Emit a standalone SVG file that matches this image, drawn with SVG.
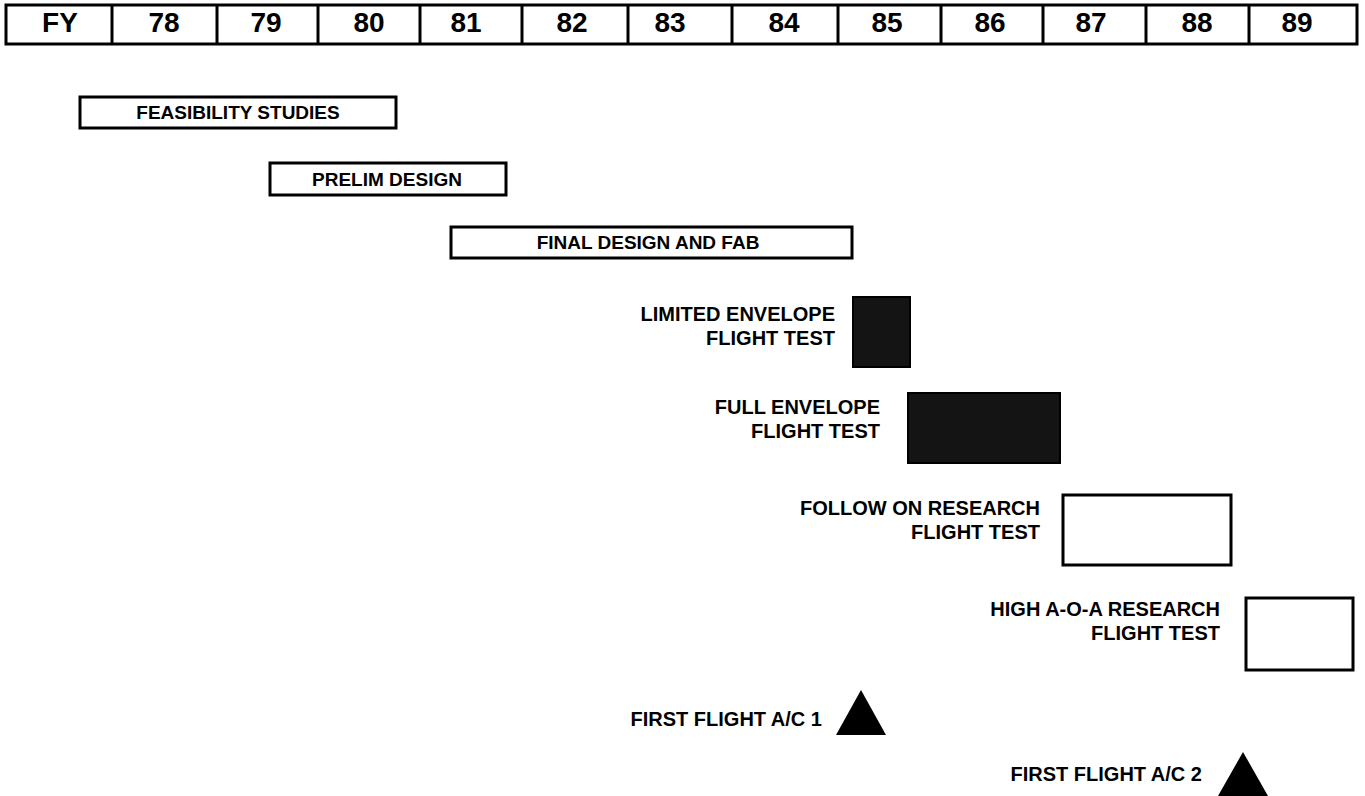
<svg xmlns="http://www.w3.org/2000/svg" width="1365" height="796" viewBox="0 0 1365 796">
<style>
.hdr{fill:#fff;stroke:#000;stroke-width:3}
.hdrline{stroke:#000;stroke-width:3}
.ht{font-family:"Liberation Sans",Arial,sans-serif;font-weight:bold;font-size:28px;text-anchor:middle;fill:#000}
.bar{fill:#fff;stroke:#000;stroke-width:3}
.dark{fill:#141414;stroke:#000;stroke-width:2}
.bt{font-family:"Liberation Sans",Arial,sans-serif;font-weight:bold;font-size:19px;text-anchor:middle;fill:#000}
.lt{font-family:"Liberation Sans",Arial,sans-serif;font-weight:bold;font-size:20px;text-anchor:end;fill:#000}
.tri{fill:#000}
</style>
<rect width="1365" height="796" fill="#fff"/>
<g id="header">
<rect class="hdr" x="6" y="5" width="1351" height="39"/>
<line class="hdrline" x1="112" y1="5" x2="112" y2="44"/>
<line class="hdrline" x1="217" y1="5" x2="217" y2="44"/>
<line class="hdrline" x1="318" y1="5" x2="318" y2="44"/>
<line class="hdrline" x1="420" y1="5" x2="420" y2="44"/>
<line class="hdrline" x1="522" y1="5" x2="522" y2="44"/>
<line class="hdrline" x1="628" y1="5" x2="628" y2="44"/>
<line class="hdrline" x1="732" y1="5" x2="732" y2="44"/>
<line class="hdrline" x1="838" y1="5" x2="838" y2="44"/>
<line class="hdrline" x1="941" y1="5" x2="941" y2="44"/>
<line class="hdrline" x1="1043" y1="5" x2="1043" y2="44"/>
<line class="hdrline" x1="1146" y1="5" x2="1146" y2="44"/>
<line class="hdrline" x1="1249" y1="5" x2="1249" y2="44"/>
<text class="ht" x="60" y="32">FY</text>
<text class="ht" x="164" y="32">78</text>
<text class="ht" x="266" y="32">79</text>
<text class="ht" x="369" y="32">80</text>
<text class="ht" x="466" y="32">81</text>
<text class="ht" x="572" y="32">82</text>
<text class="ht" x="670" y="32">83</text>
<text class="ht" x="784" y="32">84</text>
<text class="ht" x="887" y="32">85</text>
<text class="ht" x="990" y="32">86</text>
<text class="ht" x="1091" y="32">87</text>
<text class="ht" x="1197" y="32">88</text>
<text class="ht" x="1297" y="32">89</text>
</g>
<g id="feasibility">
<rect class="bar" x="80" y="97" width="316" height="31"/>
<text class="bt" x="238" y="119">FEASIBILITY STUDIES</text>
</g>
<g id="prelim">
<rect class="bar" x="270" y="163" width="236" height="32"/>
<text class="bt" x="387" y="186">PRELIM DESIGN</text>
</g>
<g id="final">
<rect class="bar" x="451" y="227" width="401" height="31"/>
<text class="bt" x="648" y="249">FINAL DESIGN AND FAB</text>
</g>
<g id="limited">
<rect class="dark" x="853" y="297" width="57" height="70"/>
<text class="lt" x="835" y="321">LIMITED ENVELOPE</text>
<text class="lt" x="835" y="345">FLIGHT TEST</text>
</g>
<g id="full">
<rect class="dark" x="908" y="393" width="152" height="70"/>
<text class="lt" x="880" y="414">FULL ENVELOPE</text>
<text class="lt" x="880" y="438">FLIGHT TEST</text>
</g>
<g id="followon">
<rect class="bar" x="1063" y="495" width="168" height="70"/>
<text class="lt" x="1040" y="515">FOLLOW ON RESEARCH</text>
<text class="lt" x="1040" y="539">FLIGHT TEST</text>
</g>
<g id="highaoa">
<rect class="bar" x="1246" y="598" width="107" height="72"/>
<text class="lt" x="1220" y="616">HIGH A-O-A RESEARCH</text>
<text class="lt" x="1220" y="640">FLIGHT TEST</text>
</g>
<g id="ff1">
<polygon class="tri" points="861,690 886,735 836,735"/>
<text class="lt" x="822" y="726">FIRST FLIGHT A/C 1</text>
</g>
<g id="ff2">
<polygon class="tri" points="1243,752 1268,796 1218,796"/>
<text class="lt" x="1202" y="781">FIRST FLIGHT A/C 2</text>
</g>
<g id="connectors"/>
</svg>
